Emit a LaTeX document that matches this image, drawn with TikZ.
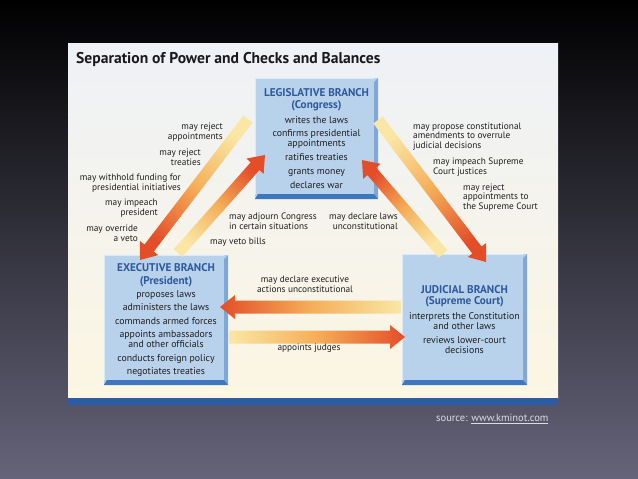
\documentclass[tikz,border=0pt]{standalone}
\usepackage{fontspec}
\setmainfont{PT Sans}
\usetikzlibrary{calc}
\definecolor{boxfill}{HTML}{B9D2EC}
\definecolor{boxright}{HTML}{7FA8D8}
\definecolor{boxbottom}{HTML}{3C77C0}
\definecolor{boxlight}{HTML}{DCE9F7}
\definecolor{headblue}{HTML}{2C5A9C}
\definecolor{bodytext}{HTML}{1E1E1E}
\definecolor{arrtail}{HTML}{FAE7A5}
\definecolor{arrmid}{HTML}{F5AE58}
\definecolor{arrhead}{HTML}{E34E29}
\definecolor{paneltop}{HTML}{EEF1F6}
\definecolor{panelbot}{HTML}{FCF6E2}
\definecolor{barblue}{HTML}{2D5CA6}
\definecolor{slidetop}{HTML}{000000}
\definecolor{slidemid}{HTML}{1D2034}
\definecolor{slidebot}{HTML}{65647A}
\definecolor{srcgray}{HTML}{DCDCE4}
\newcommand\hdfont{\color{headblue}\bfseries\fontsize{11.2}{10}\selectfont}
\newcommand\bdfont{\color{bodytext}\mdseries\fontsize{9.8}{10}\selectfont}
\newcommand\bevel[1]{%
  \fill[boxright] (#1.north east) -- (#1.south east) -- ([xshift=-4pt,yshift=5pt]#1.south east) -- ([xshift=-4pt,yshift=-4pt]#1.north east) -- cycle;
  \fill[boxbottom] (#1.south west) -- (#1.south east) -- ([xshift=-4pt,yshift=5pt]#1.south east) -- ([xshift=3pt,yshift=5pt]#1.south west) -- cycle;
  \draw[boxlight, line width=1pt] ([xshift=0.5pt,yshift=5pt]#1.south west) -- ([xshift=0.5pt,yshift=-0.5pt]#1.north west) -- ([xshift=-4pt,yshift=-0.5pt]#1.north east);
}
% tail, head, shading angle, shaft half width, head half width
\newcommand\chkarrow[5]{%
  \coordinate (ab) at ($(#2)!15pt!(#1)$);
  \shade[arrowshade, shading angle=#3]
    ($(#1)!#4!90:(#2)$) -- ($(ab)!#4!-90:(#1)$) -- ($(ab)!#5!-90:(#1)$) -- (#2)
    -- ($(ab)!#5!90:(#1)$) -- ($(ab)!#4!90:(#1)$) -- ($(#1)!#4!-90:(#2)$) -- cycle;
}
\begin{document}
\begin{tikzpicture}[x=1pt,y=-1pt,
  branch/.style={rectangle, fill=boxfill, inner sep=0pt, align=center, font=\bdfont},
  lbl/.style={inner sep=0pt, text=bodytext, font=\fontsize{9.3}{9.8}\selectfont},
  arrowshade/.style={top color=arrhead, bottom color=arrtail, middle color=arrmid}]
\useasboundingbox (0,0) rectangle (638,479);
\shade[top color=slidetop, middle color=slidemid, bottom color=slidebot] (0,0) rectangle (638,479);
\shade[top color=paneltop, bottom color=panelbot] (68,43) rectangle (558,398);
\fill[barblue] (68,398) rectangle (558,405);

\node[anchor=base west, inner sep=0pt, text=black!90, font=\bfseries\fontsize{15.6}{17}\selectfont] (title) at (76,63.5) {Separation of Power and Checks and Balances};

% branches
\node[branch, minimum width=123pt, minimum height=121pt] (leg) at (316.5,138.5)
  {\hdfont LEGISLATIVE BRANCH\\[2pt]\hdfont (Congress)\\[4.5pt]\bdfont writes the laws\\[3.5pt]
   confirms presidential\\appointments\\[4pt]ratifies treaties\\[4pt]grants money\\[3.5pt]declares war};
\node[branch, minimum width=124pt, minimum height=130pt] (exe) at (166,320)
  {\hdfont EXECUTIVE BRANCH\\[3pt]\hdfont (President)\\[3pt]\bdfont proposes laws\\[3.5pt]
   administers the laws\\[3.5pt]commands armed forces\\[3.5pt]appoints ambassadors\\and other officials\\[3.5pt]
   conducts foreign policy\\[3.5pt]negotiates treaties};
\node[branch, minimum width=125pt, minimum height=131pt] (jud) at (464.5,319.5)
  {\hdfont JUDICIAL BRANCH\\[1pt]\hdfont (Supreme Court)\\[5pt]\bdfont interprets the Constitution\\and other laws\\[3.5pt]
   reviews lower-court\\decisions};
\bevel{leg}\bevel{exe}\bevel{jud}

% arrows
\coordinate (a1t) at (248,119); \coordinate (a1h) at (140,260);
\coordinate (a2t) at (178,253); \coordinate (a2h) at (265,155);
\coordinate (a3t) at (378,120); \coordinate (a3h) at (486,262);
\coordinate (a4t) at (443,254); \coordinate (a4h) at (362,160);
\coordinate (a5t) at (401,307); \coordinate (a5h) at (220,307);
\coordinate (a6t) at (229,337); \coordinate (a6h) at (405,337);
\chkarrow{a1t}{a1h}{142.5}{5.8pt}{11.5pt}
\chkarrow{a2t}{a2h}{-41.6}{5.8pt}{11.5pt}
\chkarrow{a3t}{a3h}{-142.7}{5.8pt}{11.5pt}
\chkarrow{a4t}{a4h}{40.7}{5.8pt}{11.5pt}
\chkarrow{a5t}{a5h}{90}{6.5pt}{12pt}
\chkarrow{a6t}{a6h}{-90}{6.5pt}{12pt}

% labels
\node[lbl, anchor=east, align=right] (l1) at (223,132) {may reject\\appointments};
\node[lbl, anchor=east, align=right] (l2) at (201,157) {may reject\\treaties};
\node[lbl, anchor=east, align=right] (l3) at (181,183) {may withhold funding for\\presidential initiatives};
\node[lbl, anchor=east, align=right] (l4) at (158,208) {may impeach\\president};
\node[lbl, anchor=east, align=right] (l5) at (138,233.5) {may override\\a veto};
\node[lbl, anchor=west, align=left] (l6) at (229,221.5) {may adjourn Congress\\in certain situations};
\node[lbl, anchor=west, align=left] (l7) at (210,242) {may veto bills};
\node[lbl, anchor=east, align=right] (l8) at (398,221.5) {may declare laws\\unconstitutional};
\node[lbl, anchor=west, align=left] (l9) at (413,136.5) {may propose constitutional\\amendments to overrule\\judicial decisions};
\node[lbl, anchor=west, align=left] (l10) at (433,167.5) {may impeach Supreme\\Court justices};
\node[lbl, anchor=west, align=left] (l11) at (463,197.5) {may reject\\appointments to\\the Supreme Court};
\node[lbl, align=center] (l12) at (305,284) {may declare executive\\actions unconstitutional};
\node[lbl, align=center] (l13) at (309,348.5) {appoints judges};

\node[anchor=base west, inner sep=0pt, text=srcgray, font=\fontsize{10.5}{12}\selectfont] (src) at (436,421.5) {source: \underline{www.kminot.com}};
\end{tikzpicture}
\end{document}
